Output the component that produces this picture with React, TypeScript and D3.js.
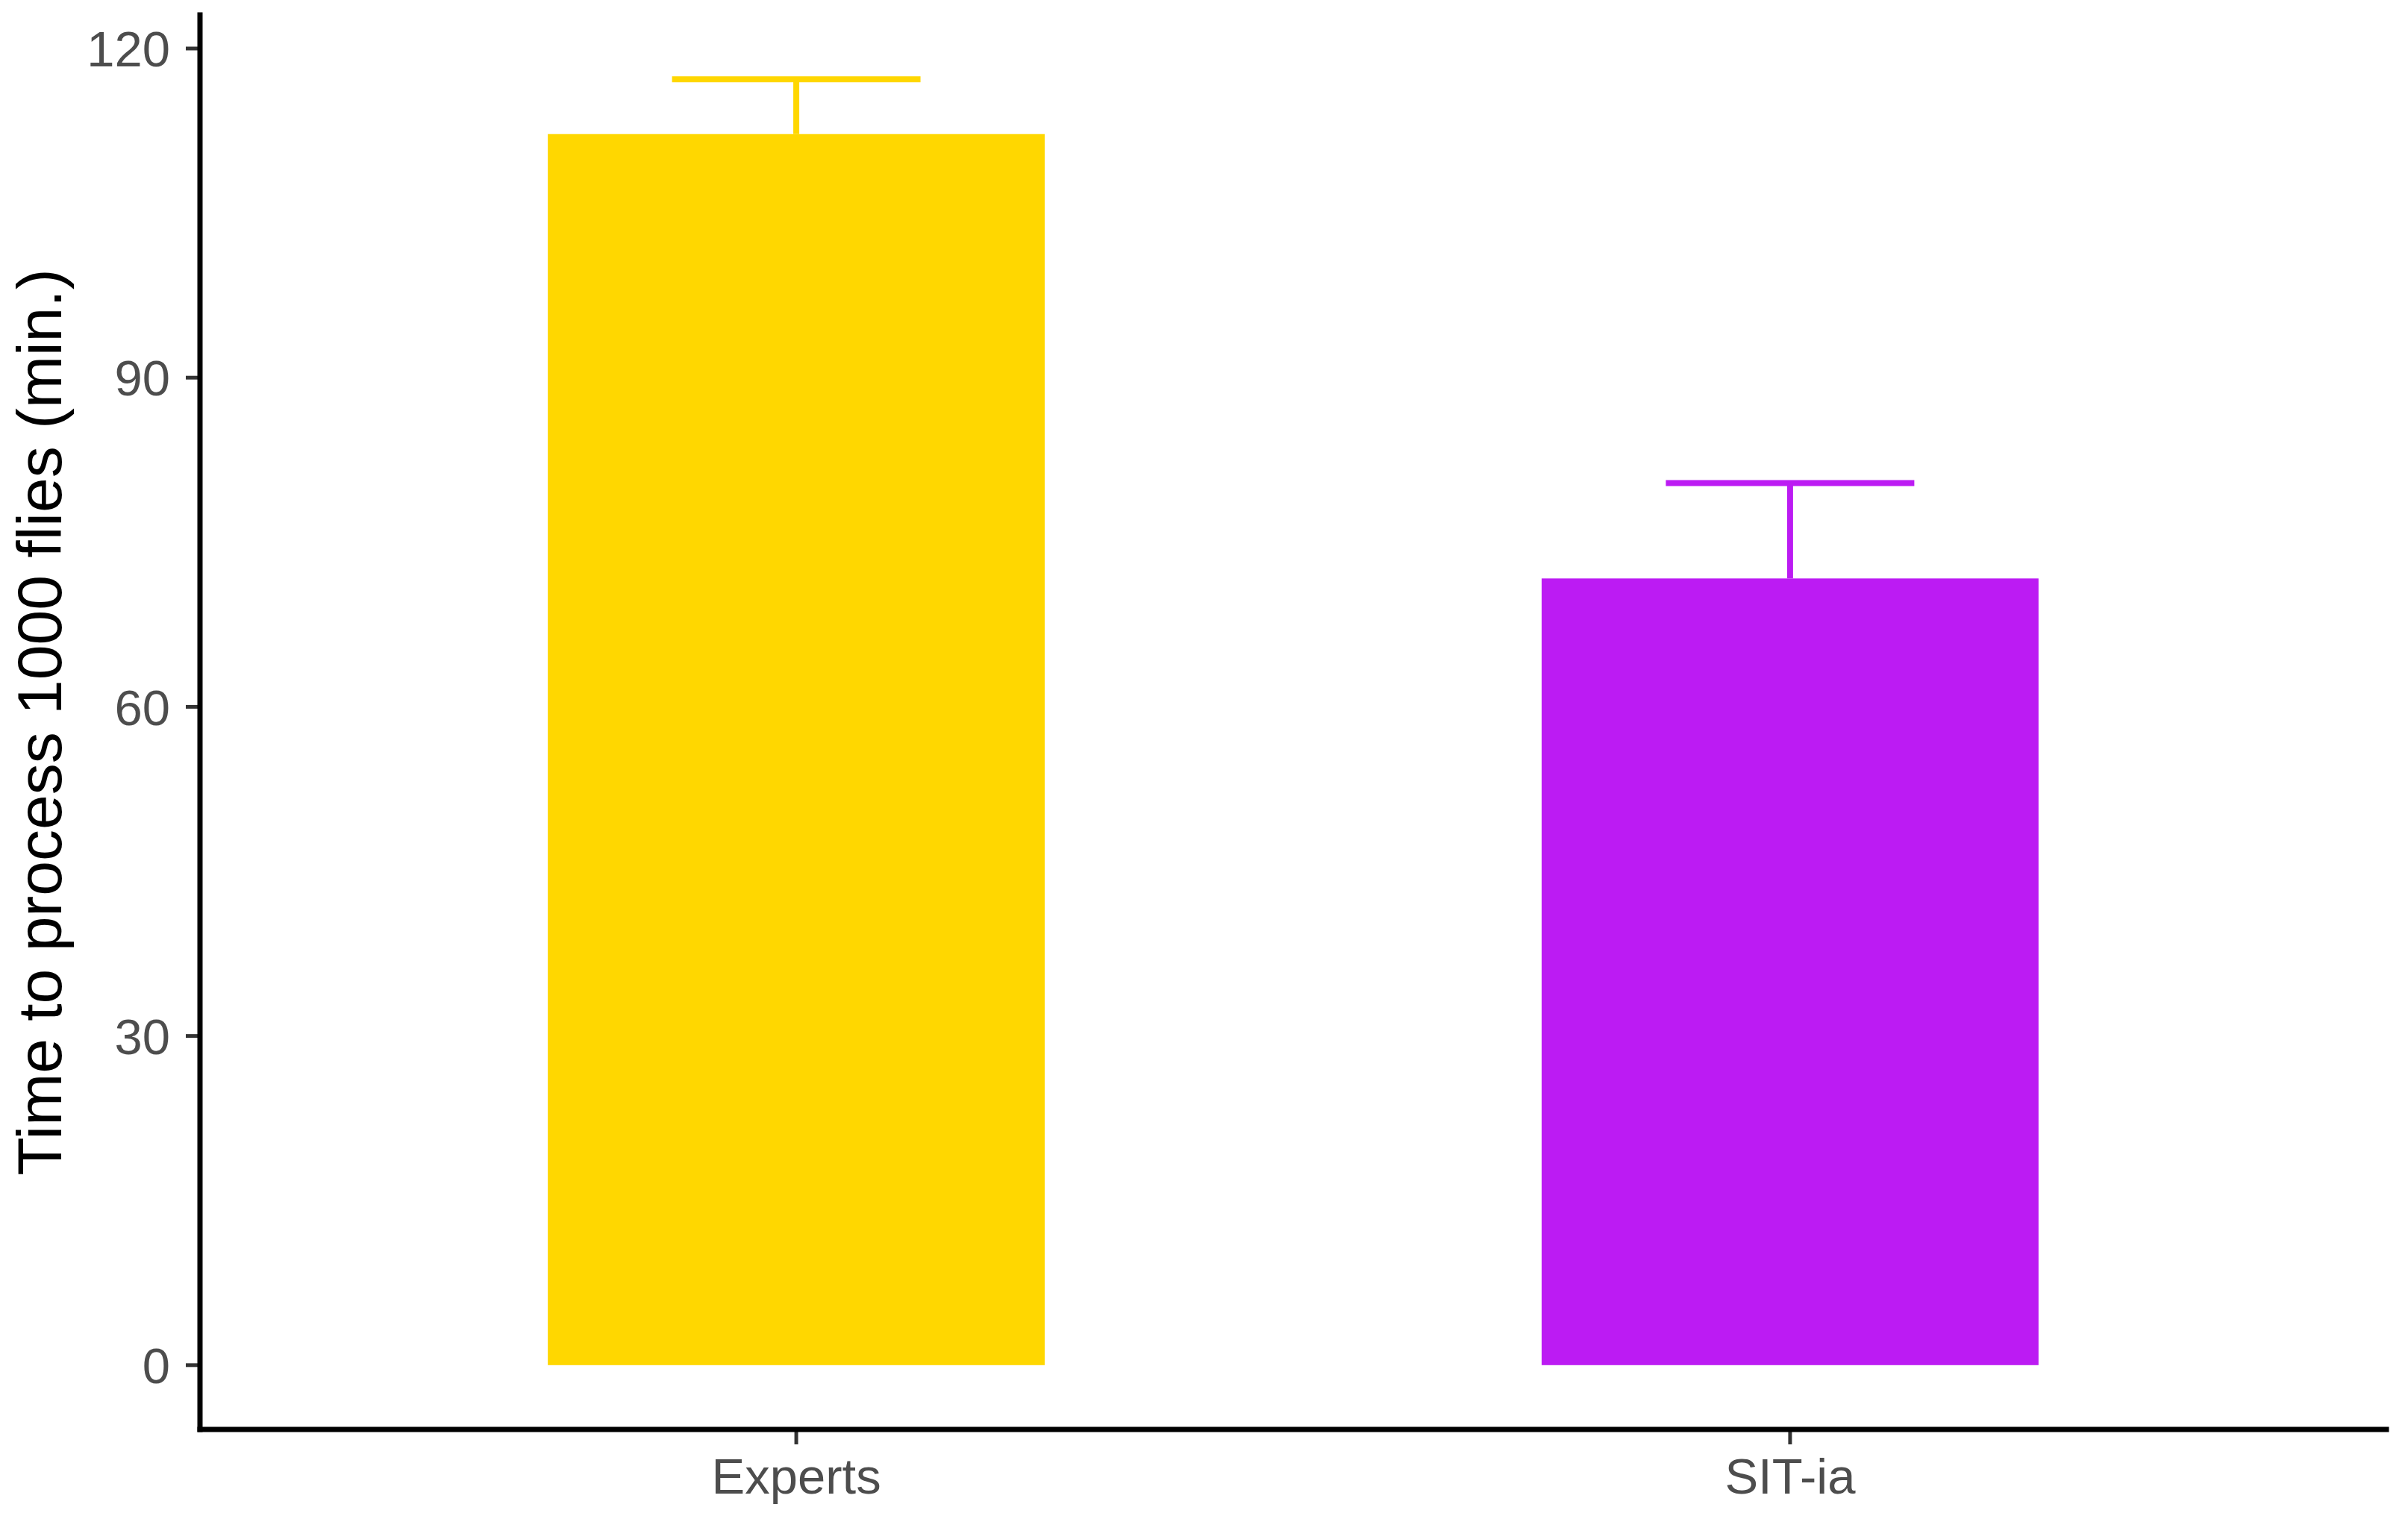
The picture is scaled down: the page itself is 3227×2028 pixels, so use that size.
import * as d3 from 'd3'

const groups = ['Experts', 'SIT-ia']
const means = [112.2, 71.7]
const upper = [117.2, 80.4]
const fills = ['#FFD700', '#BC1BF3']
const yTicks = [0, 30, 60, 90, 120]
const yTitle = 'Time to process 1000 flies (min.)'

const W = 3227, H = 2028
const left = 268, right = 3198, top = 20, bottom = 1916
const font = '"Liberation Sans", Arial, sans-serif'

const App = () => {
  const x = d3.scalePoint<string>().domain(groups).range([left, right]).padding(0.6)
  const step = x.step()
  const barW = step * 0.5
  const capW = step * 0.25
  // ggplot-style 5% expansion around 0..max(upper)
  const yMax = d3.max(upper) as number
  const pad = yMax * 0.05
  const y = d3.scaleLinear().domain([-pad, yMax + pad]).range([bottom, top])

  return (
    <svg width={W} height={H} style={{ position: 'absolute', left: 0, top: 0, background: '#fff' }}>
      {groups.map((g, i) => {
        const cx = x(g) as number
        return (
          <g key={g}>
            <line x1={cx} x2={cx} y1={y(means[i])} y2={y(upper[i])} stroke={fills[i]} strokeWidth={8} />
            <line x1={cx - capW / 2} x2={cx + capW / 2} y1={y(upper[i])} y2={y(upper[i])} stroke={fills[i]} strokeWidth={8} />
            <rect x={cx - barW / 2} y={y(means[i])} width={barW} height={y(0) - y(means[i])} fill={fills[i]} />
          </g>
        )
      })}

      {/* y axis */}
      {yTicks.map(t => (
        <g key={t}>
          <line x1={left - 19} x2={left} y1={y(t)} y2={y(t)} stroke="#333" strokeWidth={5} />
          <text x={left - 40} y={y(t)} dy="0.36em" textAnchor="end" fontFamily={font} fontSize={67} fill="#4D4D4D">{t}</text>
        </g>
      ))}
      {/* x axis */}
      {groups.map(g => (
        <g key={g}>
          <line x1={x(g)} x2={x(g)} y1={bottom} y2={bottom + 20} stroke="#333" strokeWidth={5} />
          <text x={x(g)} y={2002} textAnchor="middle" fontFamily={font} fontSize={67} fill="#4D4D4D">{g}</text>
        </g>
      ))}
      <line x1={left} x2={left} y1={top} y2={bottom} stroke="#000" strokeWidth={7} strokeLinecap="square" />
      <line x1={left} x2={right} y1={bottom} y2={bottom} stroke="#000" strokeWidth={7} strokeLinecap="square" />

      <text transform={`translate(82,${(top + bottom) / 2}) rotate(-90)`} textAnchor="middle" fontFamily={font} fontSize={84} fill="#000">{yTitle}</text>
    </svg>
  )
}

export default App
